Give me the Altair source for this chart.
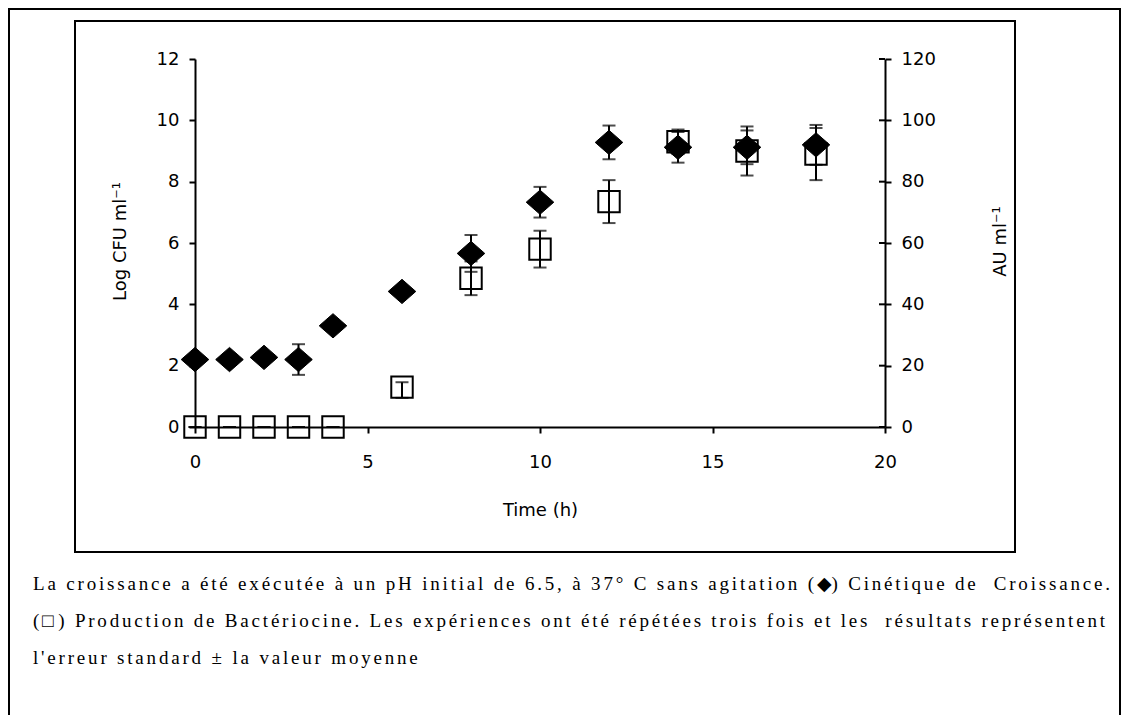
import altair as alt
import pandas as pd

# ---- data ----
time_h = [0, 1, 2, 3, 4, 6, 8, 10, 12, 14, 16, 18]
log_cfu = [2.2, 2.2, 2.27, 2.2, 3.3, 4.42, 5.66, 7.33, 9.28, 9.12, 9.12, 9.2]
log_cfu_err = [0.1, 0.1, 0.1, 0.5, 0.15, 0.15, 0.6, 0.5, 0.55, 0.5, 0.55, 0.65]
au_ml = [0, 0, 0, 0, 0, 13, 48.5, 58, 73.5, 93, 90, 89]
au_err_lo = [0, 0, 0, 0, 0, 3.5, 5.5, 6, 7, 4, 8, 8.5]
au_err_hi = [0, 0, 0, 0, 0, 1.6, 5.5, 6, 7, 4, 8, 8.5]

x_ticks = [0, 5, 10, 15, 20]
left_ticks = [0, 2, 4, 6, 8, 10, 12]
right_ticks = [0, 20, 40, 60, 80, 100, 120]

caption_lines = [
    "La croissance a été exécutée à un pH initial de 6.5, à 37° C sans agitation (◆) Cinétique de  Croissance.",
    "(□) Production de Bactériocine. Les expériences ont été répétées trois fois et les  résultats représentent",
    "l'erreur standard ± la valeur moyenne",
]
caption_right_edges = [1110, 1105, None]

cfu = pd.DataFrame({"t": time_h, "v": log_cfu,
                    "lo": [a - b for a, b in zip(log_cfu, log_cfu_err)],
                    "hi": [a + b for a, b in zip(log_cfu, log_cfu_err)]})
au = pd.DataFrame({"t": time_h, "v": au_ml,
                   "lo": [max(a - b, 0) for a, b in zip(au_ml, au_err_lo)],
                   "hi": [a + b for a, b in zip(au_ml, au_err_hi)]})
rt = pd.DataFrame({"v": right_ticks})
one = pd.DataFrame({"a": [0]})

W, H = 690, 368
PL, PT = 195, 59
FONT = "DejaVu Sans"
FS = 18
CAP_FONT = "Liberation Serif"
CAP_FS = 19
CAP_X0 = 33

# Times-like advance widths (em) used to letter-space the caption like the bitmap original
TW = {"a": .444, "b": .5, "c": .444, "d": .5, "e": .444, "f": .333, "g": .5, "h": .5,
      "i": .278, "j": .278, "k": .5, "l": .278, "m": .778, "n": .5, "o": .5, "p": .5,
      "q": .5, "r": .333, "s": .389, "t": .278, "u": .5, "v": .5, "w": .722, "x": .5,
      "y": .5, "z": .444, "é": .444, "è": .444, "à": .444,
      "A": .722, "B": .667, "C": .667, "D": .722, "E": .611, "F": .556, "G": .722,
      "H": .722, "I": .333, "J": .389, "K": .722, "L": .611, "M": .889, "N": .722,
      "O": .722, "P": .556, "Q": .722, "R": .667, "S": .556, "T": .611, "U": .722,
      "V": .722, "W": .944, "X": .722, "Y": .722, "Z": .611,
      " ": .25, ".": .25, ",": .25, "(": .333, ")": .333, "'": .18, "°": .4, "±": .564,
      "◆": .62, "□": .7}


def tw(c):
    if c.isdigit():
        return .5
    return TW.get(c, .5)


rows = []
spacings = []
for i, line in enumerate(caption_lines):
    nat = sum(tw(c) for c in line) * CAP_FS
    if caption_right_edges[i] is not None:
        extra = (caption_right_edges[i] - CAP_X0 - nat) / (len(line) - 1)
        spacings.append(extra)
    else:
        extra = sum(spacings) / len(spacings)
    x = CAP_X0
    for c in line:
        if c != " ":
            rows.append({"ch": c, "px": x - PL, "line": i})
        x += tw(c) * CAP_FS + extra
cap_df = pd.DataFrame(rows)

xscale = alt.Scale(domain=[0, 20], nice=False, zero=False)
xaxis = alt.Axis(values=x_ticks, title="Time (h)", grid=False, labelFlush=False,
                 domainColor="black", domainWidth=2, tickColor="black", tickWidth=2,
                 tickSize=6, labelFont=FONT, labelFontSize=FS, labelColor="black",
                 labelPadding=20, titleFont=FONT, titleFontSize=FS, titleFontWeight="normal",
                 titleColor="black", titleY=83, titleBaseline="middle")
X = alt.X("t:Q", scale=xscale, axis=xaxis)

lscale = alt.Scale(domain=[0, 12], nice=False)
rscale = alt.Scale(domain=[0, 120], nice=False)
laxis = alt.Axis(values=left_ticks, orient="left", title="Log CFU ml⁻¹", grid=False,
                 labelFlush=False,
                 domainColor="black", domainWidth=2, tickColor="black", tickWidth=2,
                 tickSize=6, labelFont=FONT, labelFontSize=FS, labelColor="black",
                 labelPadding=10, titleFont=FONT, titleFontSize=FS, titleFontWeight="normal",
                 titleColor="black", titleX=-75, titleY=H / 2 - 2, titleAngle=270,
                 titleBaseline="middle")
raxis = alt.Axis(values=right_ticks, orient="right", title="AU ml⁻¹", grid=False,
                 labelFlush=False,
                 domainColor="black", domainWidth=2, tickColor="black", tickWidth=2,
                 tickSize=6, labelFont=FONT, labelFontSize=FS, labelColor="black",
                 labelPadding=10, titleFont=FONT, titleFontSize=FS, titleFontWeight="normal",
                 titleColor="black", titleX=115, titleY=H / 2 - 2, titleAngle=270,
                 titleBaseline="middle")

# ---- frames ----
outer = alt.Chart(one).mark_rect(fill=None, stroke="black", strokeWidth=2).encode(
    x=alt.value(9 - PL), x2=alt.value(1120 - PL), y=alt.value(9 - PT), y2=alt.value(800))
inner = alt.Chart(one).mark_rect(fill=None, stroke="black", strokeWidth=2).encode(
    x=alt.value(75 - PL), x2=alt.value(1015 - PL), y=alt.value(21 - PT), y2=alt.value(552 - PT))

caps = []
for i in range(len(caption_lines)):
    sub = cap_df[cap_df["line"] == i]
    caps.append(alt.Chart(sub).mark_text(align="left", baseline="alphabetic",
                                         font=CAP_FONT, fontSize=CAP_FS, color="black").encode(
        text="ch:N",
        x=alt.X("px:Q", scale=None),
        y=alt.value(590 + i * 37 - PT)))

# ---- AU (right axis) ----
Yr = alt.Y("v:Q", scale=rscale, axis=raxis)
au_rule = alt.Chart(au).mark_rule(color="black", strokeWidth=2).encode(
    x=X, y=alt.Y("lo:Q", scale=rscale, axis=raxis), y2="hi:Q")
au_cap_hi = alt.Chart(au).mark_tick(orient="horizontal", color="black", size=13, thickness=2).encode(
    x=X, y=alt.Y("hi:Q", scale=rscale, axis=raxis))
au_cap_lo = alt.Chart(au).mark_tick(orient="horizontal", color="black", size=13, thickness=2).encode(
    x=X, y=alt.Y("lo:Q", scale=rscale, axis=raxis))
au_pts = alt.Chart(au).mark_point(shape="square", filled=False, stroke="black",
                                  strokeWidth=2, size=460, opacity=1).encode(x=X, y=Yr)
inward = alt.Chart(rt).mark_rule(color="black", strokeWidth=2).encode(
    y=alt.Y("v:Q", scale=rscale, axis=raxis), x=alt.value(W - 6), x2=alt.value(W))
right_group = alt.layer(au_rule, au_cap_hi, au_cap_lo, au_pts, inward)

# ---- Log CFU (left axis) ----
Yl = alt.Y("v:Q", scale=lscale, axis=laxis)
cfu_rule = alt.Chart(cfu).mark_rule(color="black", strokeWidth=2).encode(
    x=X, y=alt.Y("lo:Q", scale=lscale, axis=laxis), y2="hi:Q")
cfu_cap_hi = alt.Chart(cfu).mark_tick(orient="horizontal", color="black", size=13, thickness=2).encode(
    x=X, y=alt.Y("hi:Q", scale=lscale, axis=laxis))
cfu_cap_lo = alt.Chart(cfu).mark_tick(orient="horizontal", color="black", size=13, thickness=2).encode(
    x=X, y=alt.Y("lo:Q", scale=lscale, axis=laxis))
cfu_pts = alt.Chart(cfu).mark_point(shape="M-1,0L0,-0.88L1,0L0,0.88Z", filled=True,
                                    fill="black", stroke="black", strokeWidth=1,
                                    size=760, opacity=1).encode(x=X, y=Yl)
left_group = alt.layer(cfu_rule, cfu_cap_hi, cfu_cap_lo, cfu_pts)

chart = alt.layer(outer, inner, *caps, left_group, right_group).resolve_scale(
    y="independent"
).properties(
    width=W, height=H,
    autosize=alt.AutoSizeParams(type="none"),
    padding={"left": PL, "top": PT, "right": 1122 - PL - W, "bottom": 715 - PT - H},
    background="white",
).configure_view(stroke=None)

chart.save("out.html", embed_options={"renderer": "svg", "actions": False})
